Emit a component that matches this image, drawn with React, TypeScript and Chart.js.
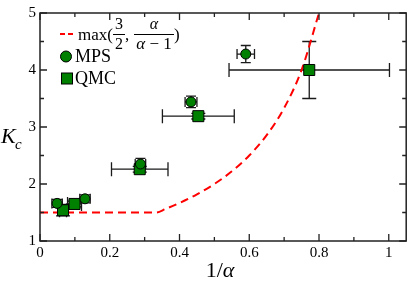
import React, { useEffect, useRef } from 'react';
import { Chart, registerables } from 'chart.js';
Chart.register(...registerables);

// MPS data (circles)
const mpsX = [0.049, 0.129, 0.288, 0.433, 0.59];
const mpsY = [1.66, 1.74, 2.35, 3.44, 4.28];
const mpsXErr = [0.015, 0.015, 0.015, 0.017, 0.025];
const mpsYErr = [0.07, 0.07, 0.1, 0.1, 0.15];

// QMC data (squares)
const qmcX = [0.066, 0.099, 0.286, 0.454, 0.772];
const qmcY = [1.54, 1.65, 2.26, 3.19, 4.0];
const qmcXErr = [0.01, 0.02, 0.081, 0.103, 0.23];
const qmcYErr = [0.1, 0.05, 0.05, 0.05, 0.5];

// boundary curve max(3/2, alpha/(alpha-1))
const boundX = [0, 0.3333, 0.36, 0.4, 0.45, 0.5, 0.55, 0.6, 0.65, 0.7, 0.75, 0.8];
const boundY = [1.5, 1.5, 1.5625, 1.667, 1.818, 2.0, 2.222, 2.5, 2.857, 3.333, 4.0, 5.0];

const xTicks = [0, 0.2, 0.4, 0.6, 0.8, 1];
const xMinor = [0.1, 0.3, 0.5, 0.7, 0.9];
const yTicks = [1, 2, 3, 4, 5];
const yMinor = [1.5, 2.5, 3.5, 4.5];

const SERIF = '"Liberation Serif", "DejaVu Serif", serif';
const GREEN = '#008000';

function drawErr(ctx: CanvasRenderingContext2D, chart: any, xs: number[], ys: number[], xe: number[], ye: number[], cap: number) {
  const sx = chart.scales.x, sy = chart.scales.y;
  ctx.save();
  ctx.strokeStyle = '#1a1a1a';
  ctx.lineWidth = 1.3;
  for (let i = 0; i < xs.length; i++) {
    const px = sx.getPixelForValue(xs[i]);
    const py = sy.getPixelForValue(ys[i]);
    const x0 = sx.getPixelForValue(xs[i] - xe[i]);
    const x1 = sx.getPixelForValue(xs[i] + xe[i]);
    const y0 = sy.getPixelForValue(ys[i] - ye[i]);
    const y1 = sy.getPixelForValue(ys[i] + ye[i]);
    ctx.beginPath();
    ctx.moveTo(x0, py); ctx.lineTo(x1, py);
    ctx.moveTo(x0, py - cap); ctx.lineTo(x0, py + cap);
    ctx.moveTo(x1, py - cap); ctx.lineTo(x1, py + cap);
    ctx.moveTo(px, y0); ctx.lineTo(px, y1);
    ctx.moveTo(px - cap, y0); ctx.lineTo(px + cap, y0);
    ctx.moveTo(px - cap, y1); ctx.lineTo(px + cap, y1);
    ctx.stroke();
  }
  ctx.restore();
}

const decor = {
  id: 'decor',
  beforeDatasetsDraw(chart: any) {
    const ctx = chart.ctx;
    drawErr(ctx, chart, mpsX, mpsY, mpsXErr, mpsYErr, 5);
    drawErr(ctx, chart, qmcX, qmcY, qmcXErr, qmcYErr, 7);
  },
  afterDraw(chart: any) {
    const ctx: CanvasRenderingContext2D = chart.ctx;
    const a = chart.chartArea;
    const sx = chart.scales.x, sy = chart.scales.y;
    ctx.save();
    ctx.strokeStyle = '#222';
    ctx.lineWidth = 1.5;
    ctx.strokeRect(a.left, a.top, a.right - a.left, a.bottom - a.top);
    ctx.lineWidth = 1.3;
    ctx.beginPath();
    const tx = (v: number, len: number) => {
      const p = sx.getPixelForValue(v);
      ctx.moveTo(p, a.bottom); ctx.lineTo(p, a.bottom - len);
      ctx.moveTo(p, a.top); ctx.lineTo(p, a.top + len);
    };
    const ty = (v: number, len: number) => {
      const p = sy.getPixelForValue(v);
      ctx.moveTo(a.left, p); ctx.lineTo(a.left + len, p);
      ctx.moveTo(a.right, p); ctx.lineTo(a.right - len, p);
    };
    xTicks.forEach(v => tx(v, 7));
    xMinor.forEach(v => tx(v, 4));
    yTicks.forEach(v => ty(v, 7));
    yMinor.forEach(v => ty(v, 4));
    ctx.stroke();

    // legend
    ctx.fillStyle = '#000';
    ctx.textBaseline = 'alphabetic';
    ctx.save();
    ctx.strokeStyle = '#ff0000';
    ctx.lineWidth = 2;
    ctx.setLineDash([5, 3]);
    ctx.beginPath();
    ctx.moveTo(60, 34); ctx.lineTo(76, 34);
    ctx.stroke();
    ctx.restore();

    ctx.textAlign = 'left';
    ctx.font = `17px ${SERIF}`;
    ctx.fillText('max(', 78, 40);
    ctx.textAlign = 'center';
    ctx.font = `16px ${SERIF}`;
    ctx.fillText('3', 119, 29);
    ctx.fillText('2', 119, 49);
    ctx.textAlign = 'left';
    ctx.font = `17px ${SERIF}`;
    ctx.fillText(',', 125, 40);
    ctx.textAlign = 'center';
    ctx.font = `italic 16px ${SERIF}`;
    ctx.fillText('α', 154, 29);
    // denominator α − 1
    ctx.textAlign = 'left';
    ctx.font = `italic 17px ${SERIF}`;
    const aw = ctx.measureText('α').width;
    ctx.font = `17px ${SERIF}`;
    const rest = ' − 1';
    const rw = ctx.measureText(rest).width;
    const start = 154 - (aw + rw) / 2;
    ctx.font = `italic 17px ${SERIF}`;
    ctx.fillText('α', start, 49);
    ctx.font = `17px ${SERIF}`;
    ctx.fillText(rest, start + aw, 49);
    ctx.font = `17px ${SERIF}`;
    ctx.fillText(')', 174, 40);
    ctx.lineWidth = 1;
    ctx.strokeStyle = '#000';
    ctx.beginPath();
    ctx.moveTo(113, 34.5); ctx.lineTo(125, 34.5);
    ctx.moveTo(134, 34.5); ctx.lineTo(174, 34.5);
    ctx.stroke();

    // legend markers
    ctx.fillStyle = GREEN;
    ctx.strokeStyle = '#000';
    ctx.lineWidth = 1;
    ctx.beginPath();
    ctx.arc(66, 56.5, 5.5, 0, Math.PI * 2);
    ctx.fill(); ctx.stroke();
    ctx.fillRect(61.5, 73, 11, 11);
    ctx.strokeRect(61.5, 73, 11, 11);
    ctx.fillStyle = '#000';
    ctx.font = `18px ${SERIF}`;
    ctx.fillText('MPS', 75, 62);
    ctx.fillText('QMC', 75, 84);

    // axis titles
    ctx.font = `italic 22px ${SERIF}`;
    ctx.fillText('K', 1, 143);
    ctx.font = `italic 15px ${SERIF}`;
    ctx.fillText('c', 15, 149);

    ctx.font = `22px ${SERIF}`;
    const w1 = ctx.measureText('1/').width;
    ctx.font = `italic 22px ${SERIF}`;
    const w2 = ctx.measureText('α').width;
    const sx0 = 220 - (w1 + w2) / 2;
    ctx.font = `22px ${SERIF}`;
    ctx.fillText('1/', sx0, 277);
    ctx.font = `italic 22px ${SERIF}`;
    ctx.fillText('α', sx0 + w1, 277);
    ctx.restore();
  },
};

export default function App() {
  const ref = useRef<HTMLCanvasElement>(null);
  useEffect(() => {
    if (!ref.current) return;
    const chart = new Chart(ref.current, {
      type: 'scatter',
      data: {
        datasets: [
          {
            label: 'max(3/2, α/(α−1))',
            type: 'line',
            data: boundX.map((x, i) => ({ x, y: boundY[i] })),
            borderColor: '#ff0000',
            borderWidth: 2,
            borderDash: [8, 5],
            pointRadius: 0,
            fill: false,
            cubicInterpolationMode: 'monotone',
            order: 3,
          } as any,
          {
            label: 'QMC',
            data: qmcX.map((x, i) => ({ x, y: qmcY[i] })),
            pointStyle: 'rect',
            pointRadius: 7.8,
            backgroundColor: GREEN,
            borderColor: '#000',
            borderWidth: 1,
            order: 2,
          },
          {
            label: 'MPS',
            data: mpsX.map((x, i) => ({ x, y: mpsY[i] })),
            pointStyle: 'circle',
            pointRadius: 5,
            backgroundColor: GREEN,
            borderColor: '#000',
            borderWidth: 1,
            order: 1,
          },
        ],
      },
      options: {
        responsive: false,
        animation: false,
        layout: { padding: { top: 5, right: 2, left: 0, bottom: 0 } },
        plugins: { legend: { display: false }, tooltip: { enabled: false } },
        scales: {
          x: {
            type: 'linear',
            min: 0,
            max: 1.05,
            grid: { display: false, drawTicks: false },
            border: { display: false },
            afterFit: (s: any) => { s.height = 43; },
            afterBuildTicks: (s: any) => { s.ticks = xTicks.map(v => ({ value: v })); },
            ticks: {
              padding: 3,
              color: '#000',
              font: { family: SERIF, size: 15 },
              callback: (v: any) => String(Math.round(Number(v) * 10) / 10),
              maxRotation: 0,
            },
          },
          y: {
            type: 'linear',
            min: 1,
            max: 5,
            grid: { display: false, drawTicks: false },
            border: { display: false },
            afterFit: (s: any) => { s.width = 40; },
            afterBuildTicks: (s: any) => { s.ticks = yTicks.map(v => ({ value: v })); },
            ticks: {
              padding: 4,
              color: '#000',
              font: { family: SERIF, size: 15 },
            },
          },
        },
      },
      plugins: [decor],
    });
    return () => chart.destroy();
  }, []);
  return (
    <div style={{ position: 'absolute', left: 0, top: 0, width: 415, height: 284, background: '#fff' }}>
      <canvas ref={ref} width={415} height={284} />
    </div>
  );
}
